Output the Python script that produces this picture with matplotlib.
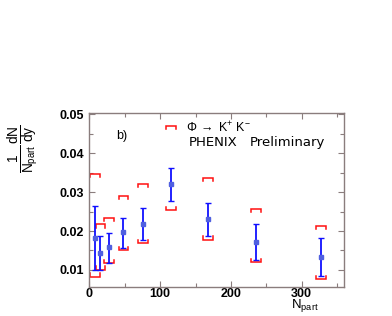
import matplotlib
matplotlib.use("Agg")
import matplotlib.pyplot as plt
from matplotlib.ticker import MultipleLocator
import numpy as np

# Data
npart = [7.6, 15.7, 27.4, 48.2, 76.4, 115.0, 167.7, 236.0, 327.8]
yield_ = [0.0181, 0.0143, 0.0158, 0.0197, 0.0218, 0.0320, 0.0230, 0.0171, 0.0133]
stat_hi = [0.0263, 0.0187, 0.0196, 0.0234, 0.0259, 0.0363, 0.0273, 0.0217, 0.0181]
stat_lo = [0.0100, 0.0100, 0.0117, 0.0157, 0.0177, 0.0277, 0.0187, 0.0125, 0.0085]
sys_hi = [0.0347, 0.0217, 0.0234, 0.0290, 0.0320, 0.0469, 0.0336, 0.0257, 0.0213]
sys_lo = [0.0083, 0.0101, 0.0118, 0.0152, 0.0169, 0.0254, 0.0178, 0.0121, 0.0076]
xticks = [0, 100, 200, 300]
yticks = [0.01, 0.02, 0.03, 0.04, 0.05]
ytick_labels = ["0.01", "0.02", "0.03", "0.04", "0.05"]

plt.rcParams['font.family'] = ['Liberation Sans', 'DejaVu Sans']
plt.rcParams['mathtext.fontset'] = 'custom'
plt.rcParams['mathtext.rm'] = 'Liberation Sans'
plt.rcParams['mathtext.it'] = 'Liberation Sans'

fig = plt.figure(figsize=(3.92, 3.16), dpi=100)
ax = fig.add_axes([0.228, 0.0927, 0.650, 0.5497])
ax.set_xlim(0, 360)
ax.set_ylim(0.0057, 0.0503)

red = '#ff1010'
blue = '#1010ff'
half_w = 7.0
hook = 0.0008
for x, hi, lo in zip(npart, sys_hi, sys_lo):
    ax.plot([x - half_w, x - half_w, x + half_w, x + half_w],
            [hi - hook, hi, hi, hi - hook], color=red, lw=1.1, solid_joinstyle='miter')
    ax.plot([x - half_w, x - half_w, x + half_w, x + half_w],
            [lo + hook, lo, lo, lo + hook], color=red, lw=1.1, solid_joinstyle='miter')

y = np.array(yield_)
err = [y - np.array(stat_lo), np.array(stat_hi) - y]
ax.errorbar(npart, yield_, yerr=err, fmt='s', color=blue, ms=3,
            mfc='#5060e0', mec='#5060e0', elinewidth=1.3, capsize=2.2, capthick=1.0)

spine_col = '#8a7d7d'
for s in ax.spines.values():
    s.set_color(spine_col)
    s.set_linewidth(1.0)

ax.set_xticks(xticks)
ax.set_xticklabels([str(t) for t in xticks], fontsize=9, fontweight='bold')
ax.set_yticks(yticks)
ax.set_yticklabels(ytick_labels, fontsize=9, fontweight='bold')
ax.xaxis.set_minor_locator(MultipleLocator(50))
ax.yaxis.set_minor_locator(MultipleLocator(0.005))
ax.tick_params(which='both', direction='in', top=True, right=True, color=spine_col, width=0.8)
ax.tick_params(which='major', length=4)
ax.tick_params(axis='x', which='major', pad=1.0)
ax.tick_params(axis='y', which='major', pad=4)
ax.tick_params(which='minor', length=3)

ax.text(0.105, 0.87, 'b)', transform=ax.transAxes, fontsize=9, ha='left', va='center')
ax.text(137, 0.0464, r'$\Phi\;\rightarrow\;$K$^{+}$ K$^{-}$', fontsize=9, ha='left', va='center')
ax.text(140, 0.0428, 'PHENIX', fontsize=9.5, family='DejaVu Sans', ha='left', va='center')
ax.text(226, 0.0428, 'Preliminary', fontsize=9.5, family='DejaVu Sans', ha='left', va='center')

fig.text(0.743, 0.005, r'N$_{\mathrm{part}}$', fontsize=9.5, ha='left', va='bottom')
fig.text(0.060, 0.528, r'$\frac{1}{N_{\mathrm{part}}}\frac{dN}{dy}$', fontsize=14,
         rotation=90, ha='center', va='center')

fig.savefig('out.png', dpi=100)
